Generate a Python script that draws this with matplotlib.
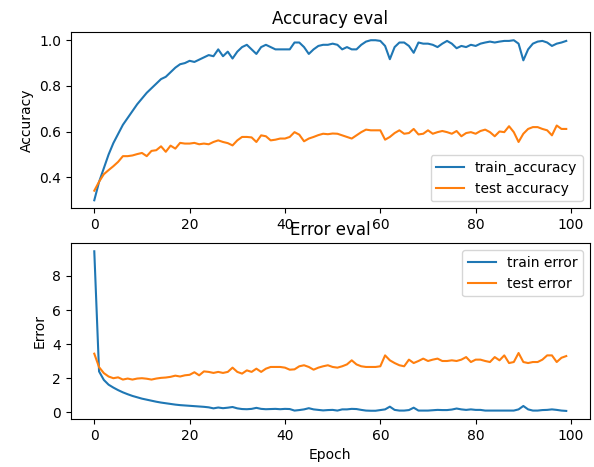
import matplotlib

matplotlib.use("Agg")

import matplotlib.pyplot as plt

# значения (100 эпох)
train_accuracy = [
    0.30, 0.38, 0.44, 0.50, 0.55, 0.59, 0.63, 0.66, 0.69, 0.72,
    0.745, 0.77, 0.79, 0.81, 0.83, 0.84, 0.86, 0.88, 0.895, 0.90,
    0.91, 0.905, 0.915, 0.925, 0.935, 0.93, 0.96, 0.93, 0.95, 0.92,
    0.95, 0.97, 0.98, 0.96, 0.94, 0.97, 0.98, 0.97, 0.96, 0.96,
    0.96, 0.96, 0.99, 0.99, 0.97, 0.94, 0.96, 0.975, 0.98, 0.98,
    0.985, 0.98, 0.96, 0.97, 0.96, 0.96, 0.98, 0.994, 1.0, 1.0,
    0.997, 0.975, 0.917, 0.97, 0.99, 0.99, 0.975, 0.945, 0.99, 0.985,
    0.985, 0.98, 0.97, 0.985, 0.997, 0.985, 0.965, 0.975, 0.97, 0.98,
    0.975, 0.985, 0.99, 0.994, 0.99, 0.994, 0.997, 0.997, 1.0, 0.985,
    0.912, 0.96, 0.985, 0.994, 0.997, 0.99, 0.975, 0.985, 0.99, 0.997,
]
test_accuracy = [
    0.342, 0.381, 0.414, 0.432, 0.449, 0.468, 0.493, 0.493, 0.496, 0.502,
    0.507, 0.493, 0.516, 0.519, 0.536, 0.512, 0.539, 0.526, 0.551, 0.548,
    0.548, 0.551, 0.545, 0.548, 0.545, 0.555, 0.562, 0.555, 0.550, 0.540,
    0.562, 0.577, 0.577, 0.575, 0.555, 0.584, 0.580, 0.562, 0.565, 0.570,
    0.570, 0.577, 0.598, 0.587, 0.558, 0.570, 0.577, 0.585, 0.591, 0.589,
    0.592, 0.591, 0.584, 0.577, 0.570, 0.584, 0.598, 0.609, 0.606, 0.606,
    0.606, 0.565, 0.577, 0.594, 0.606, 0.591, 0.594, 0.612, 0.588, 0.591,
    0.606, 0.591, 0.598, 0.603, 0.598, 0.591, 0.603, 0.580, 0.594, 0.598,
    0.591, 0.603, 0.609, 0.598, 0.580, 0.601, 0.598, 0.624, 0.598, 0.555,
    0.591, 0.612, 0.620, 0.620, 0.612, 0.606, 0.584, 0.627, 0.612, 0.612,
]
train_error = [
    9.45, 2.4, 1.9, 1.62, 1.45, 1.3, 1.17, 1.06, 0.96, 0.88,
    0.80, 0.74, 0.68, 0.62, 0.57, 0.53, 0.49, 0.45, 0.42, 0.40,
    0.38, 0.36, 0.34, 0.32, 0.29, 0.23, 0.28, 0.24, 0.27, 0.31,
    0.23, 0.19, 0.18, 0.20, 0.26, 0.20, 0.18, 0.19, 0.20, 0.18,
    0.20, 0.19, 0.10, 0.13, 0.17, 0.24, 0.17, 0.14, 0.11, 0.13,
    0.14, 0.10, 0.17, 0.17, 0.20, 0.19, 0.14, 0.10, 0.09, 0.09,
    0.13, 0.17, 0.33, 0.14, 0.10, 0.10, 0.13, 0.27, 0.10, 0.10,
    0.10, 0.12, 0.14, 0.13, 0.13, 0.16, 0.22, 0.17, 0.14, 0.17,
    0.14, 0.14, 0.10, 0.10, 0.10, 0.10, 0.10, 0.10, 0.10, 0.17,
    0.37, 0.17, 0.10, 0.10, 0.13, 0.14, 0.17, 0.14, 0.10, 0.08,
]
test_error = [
    3.44, 2.65, 2.3, 2.1, 2.0, 2.05, 1.92, 1.98, 1.92, 1.98,
    2.0, 1.97, 1.92, 1.98, 2.02, 2.04, 2.08, 2.15, 2.1, 2.17,
    2.2, 2.35, 2.17, 2.4, 2.37, 2.31, 2.37, 2.31, 2.37, 2.62,
    2.37, 2.27, 2.46, 2.37, 2.56, 2.37, 2.56, 2.66, 2.66, 2.66,
    2.62, 2.50, 2.52, 2.70, 2.76, 2.66, 2.50, 2.62, 2.70, 2.76,
    2.66, 2.62, 2.70, 2.81, 3.05, 2.81, 2.70, 2.66, 2.66, 2.66,
    2.70, 3.34, 3.05, 2.89, 2.76, 2.70, 3.09, 2.89, 3.01, 3.15,
    3.01, 3.09, 3.15, 3.01, 3.01, 3.05, 3.01, 3.09, 3.24, 2.95,
    3.09, 3.09, 3.01, 2.95, 3.24, 3.05, 3.34, 2.89, 2.95, 3.48,
    2.95, 2.89, 2.95, 2.95, 3.09, 3.34, 3.34, 2.95, 3.20, 3.30,
]
epochs = list(range(len(train_accuracy)))

fig = plt.figure(figsize=(5.94, 4.67), dpi=100)
ax1 = fig.add_axes([0.119, 0.554, 0.874, 0.377])
ax2 = fig.add_axes([0.119, 0.103, 0.874, 0.376])

# точность
ax1.plot(epochs, train_accuracy, label="train_accuracy")
ax1.plot(epochs, test_accuracy, label="test accuracy")
ax1.set_ylabel("Accuracy")
ax1.legend(loc="lower right")
ax1.set_title("Accuracy eval")

# ошибка
ax2.plot(epochs, train_error, label="train error")
ax2.plot(epochs, test_error, label="test error")
ax2.set_ylabel("Error")
ax2.set_xlabel("Epoch")
ax2.legend(loc="upper right")
ax2.set_title("Error eval")

fig.savefig("out.png", dpi=100)
